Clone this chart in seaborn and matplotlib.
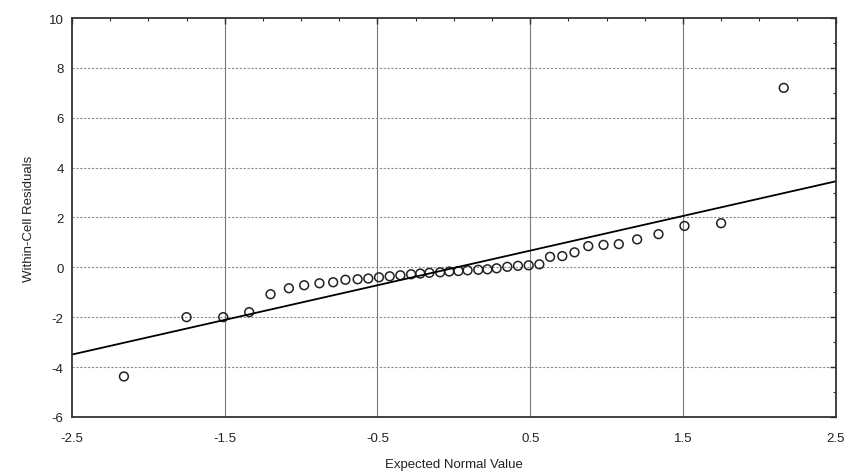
import numpy as np
import pandas as pd
import matplotlib
matplotlib.use("Agg")
import matplotlib.pyplot as plt
import seaborn as sns
from matplotlib.ticker import MultipleLocator

# expected normal values
expected = [
    -2.16, -1.75, -1.51, -1.34, -1.20, -1.08, -0.98, -0.88, -0.79, -0.71,
    -0.63, -0.56, -0.49, -0.42, -0.35, -0.28, -0.22, -0.16, -0.09, -0.03,
    0.03, 0.09, 0.16, 0.22, 0.28, 0.35, 0.42, 0.49, 0.56, 0.63,
    0.71, 0.79, 0.88, 0.98, 1.08, 1.20, 1.34, 1.51, 1.75, 2.16,
]
residuals = [
    -4.38, -2.00, -2.00, -1.80, -1.08, -0.84, -0.72, -0.64, -0.60, -0.50,
    -0.48, -0.45, -0.40, -0.36, -0.32, -0.28, -0.25, -0.22, -0.20, -0.17,
    -0.15, -0.12, -0.10, -0.08, -0.04, 0.02, 0.06, 0.08, 0.12, 0.42,
    0.45, 0.60, 0.85, 0.90, 0.93, 1.12, 1.33, 1.66, 1.77, 7.20,
]
line_x = [-2.5, 2.5]
line_y = [-3.5, 3.45]

x_ticks = [-2.5, -1.5, -0.5, 0.5, 1.5, 2.5]
y_ticks = [-6, -4, -2, 0, 2, 4, 6, 8, 10]

sns.set_style("white")
plt.rcParams["font.family"] = ["Liberation Sans", "DejaVu Sans"]
plt.rcParams["axes.unicode_minus"] = False

df = pd.DataFrame({"expected": expected, "resid": residuals})
fit = pd.DataFrame({"x": line_x, "y": line_y})

fig = plt.figure(figsize=(8.51, 4.77), dpi=100)
ax = fig.add_axes([0.0846, 0.124, 0.8974, 0.836])

# grid: solid verticals, dotted horizontals
for xv in x_ticks[1:-1]:
    ax.axvline(xv, color="#7a7a7a", linewidth=0.8, zorder=0)
for yv in y_ticks[1:-1]:
    col = "#b08080" if abs(yv) == 2 else "#8a8a8a"
    ax.axhline(yv, color=col, linewidth=0.8, linestyle=(0, (2, 1.5)), zorder=0)

sns.lineplot(data=fit, x="x", y="y", color="black", linewidth=1.3, ax=ax)
sns.scatterplot(data=df, x="expected", y="resid", marker="o", s=40,
                facecolor="none", edgecolor="#222222", linewidth=1.1, ax=ax)

ax.set_xlim(-2.5, 2.5)
ax.set_ylim(-6, 10)
ax.set_xticks(x_ticks)
ax.set_xticklabels([f"{v:g}" for v in x_ticks])
ax.set_yticks(y_ticks)
ax.xaxis.set_minor_locator(MultipleLocator(0.25))
ax.yaxis.set_minor_locator(MultipleLocator(1))
ax.tick_params(which="both", direction="in", top=True, right=True,
               colors="#333333", labelsize=9.5, labelcolor="#222222")
ax.tick_params(which="major", length=4, width=1)
ax.tick_params(which="minor", length=2.5, width=0.8)
ax.tick_params(axis="x", which="major", pad=11)
ax.tick_params(axis="y", which="major", pad=6)

for s in ax.spines.values():
    s.set_color("#333333")
    s.set_linewidth(1.3)

ax.set_xlabel("Expected Normal Value", fontsize=9.5, color="#222222", labelpad=10)
ax.set_ylabel("Within-Cell Residuals", fontsize=9.5, color="#222222", labelpad=10)

fig.savefig("out.png", dpi=100)
plt.close(fig)
